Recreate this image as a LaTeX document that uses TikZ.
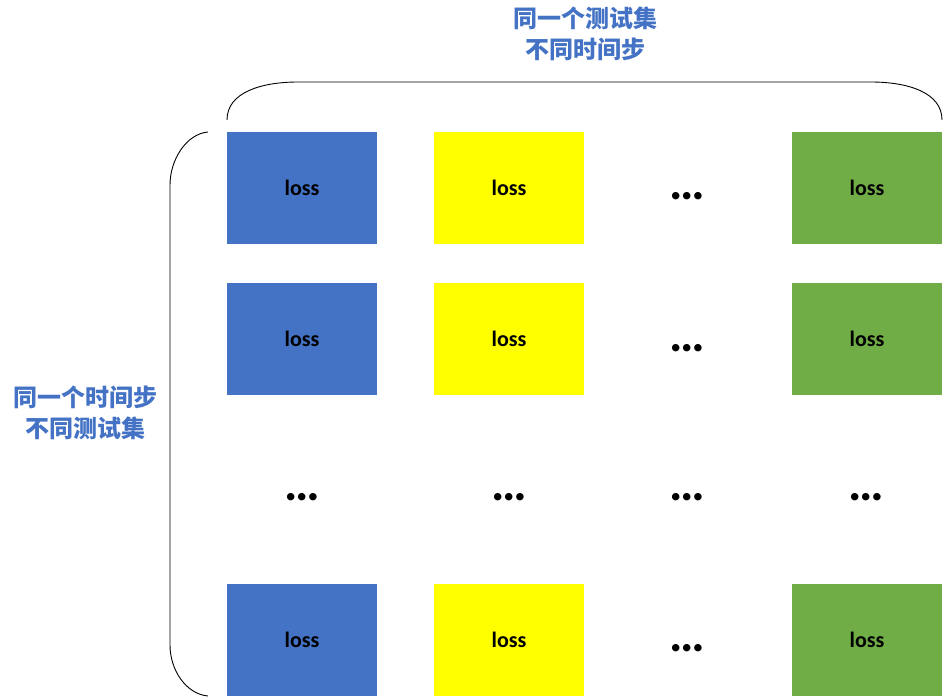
\documentclass[tikz,border=0pt]{standalone}
\usepackage{fontspec}
\setmainfont{Carlito}
\newfontfamily\cjk{Noto Sans CJK SC}
\definecolor{cblue}{HTML}{4472C4}
\definecolor{cyellow}{HTML}{FFFF00}
\definecolor{cgreen}{HTML}{70AD47}
\definecolor{ctext}{HTML}{4472C4}
\begin{document}
\begin{tikzpicture}[x=1pt,y=-1pt,
  cell/.style={minimum width=150pt,minimum height=112pt,inner sep=0pt,font=\fontsize{22}{26}\selectfont\bfseries},
  bluecell/.style={cell,fill=cblue},
  yellowcell/.style={cell,fill=cyellow},
  greencell/.style={cell,fill=cgreen},
  dotsnode/.style={inner sep=0pt,anchor=base,font=\fontsize{50}{50}\selectfont\bfseries},
  label/.style={align=center,text=ctext,font=\cjk\bfseries\fontsize{24}{31}\selectfont},
  bracket/.style={draw=black,line width=0.9pt}]
\useasboundingbox (0,0) rectangle (944,698);
% row 1
\node[bluecell] (b1) at (302,188) {loss};
\node[yellowcell] (y1) at (509,188) {loss};
\node[dotsnode] (d1) at (687,199) {…};
\node[greencell] (g1) at (867,188) {loss};
% row 2
\node[bluecell] (b2) at (302,339) {loss};
\node[yellowcell] (y2) at (509,339) {loss};
\node[dotsnode] (d2) at (687,351) {…};
\node[greencell] (g2) at (867,339) {loss};
% dots row
\node[dotsnode] (e1) at (302,500) {…};
\node[dotsnode] (e2) at (509,500) {…};
\node[dotsnode] (e3) at (687,500) {…};
\node[dotsnode] (e4) at (866,500) {…};
% row 4
\node[bluecell] (b4) at (302,640) {loss};
\node[yellowcell] (y4) at (509,640) {loss};
\node[dotsnode] (d4) at (687,651) {…};
\node[greencell] (g4) at (867,640) {loss};
% labels
\node[label] (top) at (585,34) {同一个测试集\\不同时间步};
\node[label] (left) at (85,413) {同一个时间步\\不同测试集};
% brackets
\coordinate (t1) at (227,120);
\coordinate (t2) at (942,120);
\draw[bracket] (t1) .. controls (227,92) and (262,82) .. (298,82) -- (871,82) .. controls (907,82) and (942,92) .. (t2);
\coordinate (l1) at (208,132);
\coordinate (l2) at (208,696);
\draw[bracket] (l1) .. controls (186,134) and (170,160) .. (170,185) -- (170,645) .. controls (170,670) and (186,694) .. (l2);
\end{tikzpicture}
\end{document}
